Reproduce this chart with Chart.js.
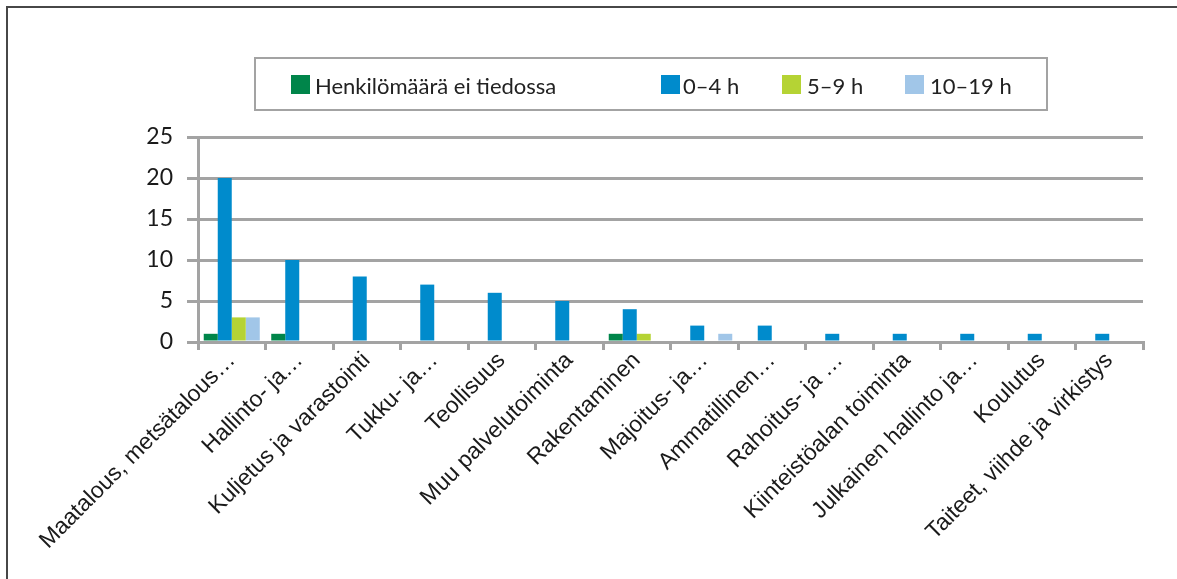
<!DOCTYPE html>
<html lang="fi">
<head>
  <meta charset="UTF-8">
  <title>Toimialat henkilömäärän mukaan</title>
  <script src="https://cdn.jsdelivr.net/npm/chart.js"></script>
  <style>
    body { margin: 0; background: #fff; }
    .wrap { position: relative; width: 1177px; height: 579px; }
  </style>
</head>
<body>
  <div class="wrap"><canvas id="chart"></canvas></div>
  <script>
    // categories (labels truncated like in the original)
    const categories = [
      'Maatalous, metsätalous…', 'Hallinto- ja…', 'Kuljetus ja varastointi', 'Tukku- ja…',
      'Teollisuus', 'Muu palvelutoiminta', 'Rakentaminen', 'Majoitus- ja…',
      'Ammatillinen…', 'Rahoitus- ja …', 'Kiinteistöalan toiminta', 'Julkainen hallinto ja…',
      'Koulutus', 'Taiteet, viihde ja virkistys'
    ];
    const seriesNames = ['Henkilömäärä ei tiedossa', '0–4 h', '5–9 h', '10–19 h'];
    const unknownCount = [1, 1, null, null, null, null, 1, null, null, null, null, null, null, null];
    const h0to4 = [20, 10, 8, 7, 6, 5, 4, 2, 2, 1, 1, 1, 1, 1];
    const h5to9 = [3, null, null, null, null, null, 1, null, null, null, null, null, null, null];
    const h10to19 = [3, null, null, null, null, null, null, 1, null, null, null, null, null, null];
    const yTicks = [0, 5, 10, 15, 20, 25];

    const colors = ['#00854a', '#008bcc', '#b5d334', '#a1c6e8'];
    const gridColor = '#a3a3a3';

    // legend box is drawn by hand to follow the Excel layout
    const legendBox = { x: 255, y: 58, w: 792, h: 52 };
    const legendX = [[291, 315], [661, 683], [782, 807], [905, 930]];

    const framePlugin = {
      id: 'frame',
      afterDraw(chart) {
        const ctx = chart.ctx;
        ctx.save();
        // outer frame (only top and left visible)
        ctx.strokeStyle = '#474747';
        ctx.lineWidth = 2;
        ctx.beginPath();
        ctx.moveTo(7, 579);
        ctx.lineTo(7, 7);
        ctx.lineTo(1177, 7);
        ctx.stroke();

        // legend
        ctx.strokeStyle = gridColor;
        ctx.lineWidth = 2;
        ctx.strokeRect(legendBox.x, legendBox.y, legendBox.w, legendBox.h);
        ctx.font = '22px Lato';
        ctx.textBaseline = 'alphabetic';
        chart.data.datasets.forEach((ds, i) => {
          ctx.fillStyle = ds.backgroundColor;
          ctx.fillRect(legendX[i][0], 75, 19, 19);
          ctx.fillStyle = '#222';
          ctx.fillText(ds.label, legendX[i][1], 94);
        });
        ctx.restore();
      }
    };

    const datasets = [unknownCount, h0to4, h5to9, h10to19].map((d, i) => ({
      label: seriesNames[i],
      data: d,
      backgroundColor: colors[i],
      borderWidth: 0,
      categoryPercentage: 0.83,
      barPercentage: 1.0
    }));

    new Chart(document.getElementById('chart'), {
      type: 'bar',
      data: { labels: categories, datasets },
      plugins: [framePlugin],
      options: {
        responsive: true,
        maintainAspectRatio: false,
        animation: false,
        layout: { padding: { top: 137, right: 34, left: 0, bottom: 0 } },
        plugins: { legend: { display: false }, tooltip: { enabled: false } },
        scales: {
          x: {
            offset: true,
            grid: { drawOnChartArea: false, drawTicks: true, tickLength: 8, color: gridColor, lineWidth: 3 },
            border: { color: gridColor, width: 3 },
            ticks: {
              autoSkip: false, minRotation: 45, maxRotation: 45, padding: -3,
              color: '#1a1a1a', font: { family: 'Liberation Sans', size: 23 }
            },
            afterFit(scale) { scale.height = 237; }
          },
          y: {
            min: 0, max: 25,
            afterBuildTicks(scale) { scale.ticks = yTicks.map(v => ({ value: v })); },
            grid: { color: gridColor, lineWidth: 3, tickLength: 11 },
            border: { color: gridColor, width: 3 },
            ticks: { padding: 14, color: '#1a1a1a', font: { family: 'Lato', size: 23 } },
            afterFit(scale) { scale.width = 198; }
          }
        }
      }
    });
  </script>
</body>
</html>
